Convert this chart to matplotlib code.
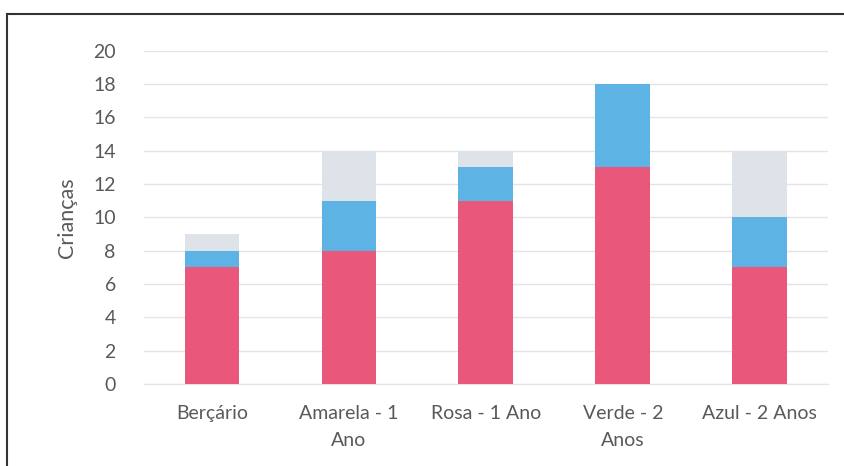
import matplotlib.pyplot as plt
from matplotlib.lines import Line2D
import numpy as np

plt.rcParams['font.family'] = ['Lato', 'DejaVu Sans']

turmas = ["Berçário", "Amarela - 1\nAno", "Rosa - 1 Ano", "Verde - 2\nAnos", "Azul - 2 Anos"]
serie_rosa = [7, 8, 11, 13, 7]
serie_azul = [1, 3, 2, 5, 3]
serie_cinza = [1, 3, 1, 0, 4]

cor_texto = '#595959'

fig = plt.figure(figsize=(8.45, 4.66), dpi=100)
ax = fig.add_axes([0.170, 0.176, 0.810, 0.715])

x = np.arange(len(turmas))
largura = 0.4
base = np.zeros(len(turmas))
for valores, cor in [(serie_rosa, '#E9587B'), (serie_azul, '#5DB4E4'), (serie_cinza, '#DEE3E9')]:
    ax.bar(x, valores, largura, bottom=base, color=cor, zorder=3)
    base = base + np.array(valores)

ax.set_xlim(-0.5, len(turmas) - 0.5)
ax.set_ylim(0, 20)
ax.set_yticks(range(0, 21, 2))
ax.set_xticks(x)
ax.set_xticklabels(turmas, linespacing=1.75)
ax.grid(axis='y', color='#E4E4E4', linewidth=1, zorder=0)
ax.tick_params(axis='both', length=0, labelsize=14, colors=cor_texto)
ax.tick_params(axis='x', pad=15)
ax.tick_params(axis='y', pad=20)
for lado in ['top', 'right', 'left']:
    ax.spines[lado].set_visible(False)
ax.spines['bottom'].set_color('#E4E4E4')
ax.set_ylabel("Crianças", fontsize=15.5, color=cor_texto, labelpad=12)

# moldura da imagem digitalizada
fig.add_artist(Line2D([0.008, 1.0], [0.970, 0.970], color='#333333', linewidth=1.5))
fig.add_artist(Line2D([0.008, 0.008], [0.0, 0.970], color='#333333', linewidth=1.5))

fig.savefig('out.png', dpi=100)
